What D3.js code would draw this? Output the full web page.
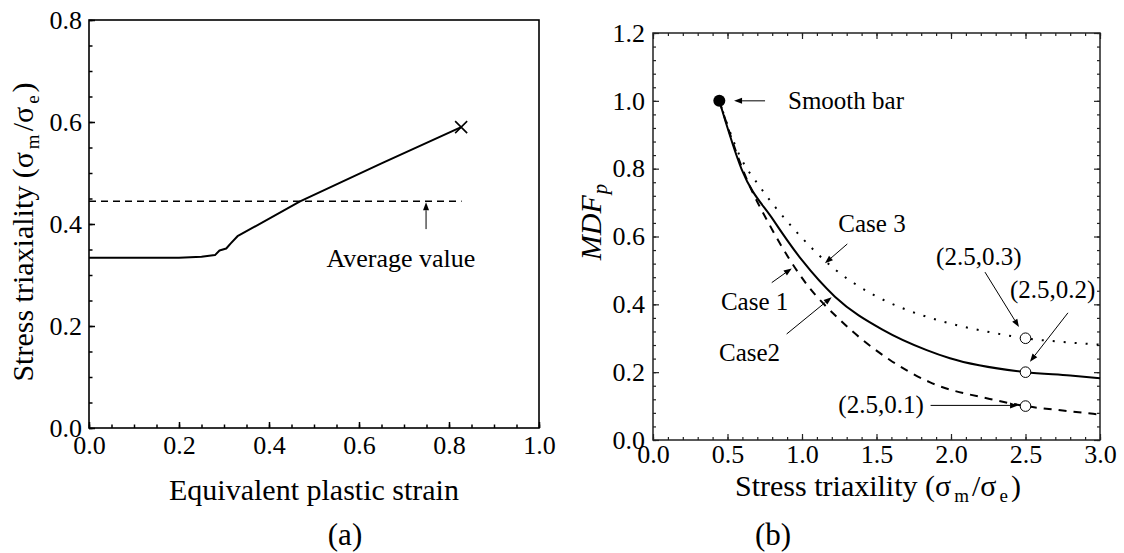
<!DOCTYPE html>
<html>
<head>
<meta charset="utf-8">
<script src="https://cdn.jsdelivr.net/npm/d3@7/dist/d3.min.js"></script>
<style>
  html, body { margin: 0; padding: 0; background: #fff; }
  svg { display: block; }
  text { font-family: "Liberation Serif", "Times New Roman", serif; fill: #000; }
</style>
</head>
<body>
<svg id="chart" width="1124" height="553"></svg>
<script>
// ---------- Data: panel (a) ----------
const strainA = [0, 0.1, 0.2, 0.25, 0.28, 0.29, 0.305, 0.315, 0.33, 0.469, 0.65, 0.827];
const triaxA  = [0.334, 0.334, 0.334, 0.336, 0.339, 0.348, 0.352, 0.362, 0.376, 0.4445, 0.519, 0.59];
const averageValue = 0.4445;
const averageRange = [0, 0.828];
const xTicksA = [0, 0.2, 0.4, 0.6, 0.8, 1.0];
const yTicksA = [0, 0.2, 0.4, 0.6, 0.8];

// ---------- Data: panel (b) ----------
const etaCase2 = [0.445, 0.595, 0.807, 1.0, 1.221, 1.546, 1.837, 1.993, 2.5, 2.8, 3.0];
const mdfCase2 = [1.0, 0.798, 0.649, 0.53, 0.4225, 0.324, 0.265, 0.241, 0.2, 0.19, 0.182];
const etaCase3 = [0.445, 0.58, 0.72, 0.93, 1.23, 1.48, 1.69, 1.94, 2.26, 2.5, 2.78, 3.0];
const mdfCase3 = [1.0, 0.84, 0.745, 0.63, 0.5, 0.428, 0.386, 0.35, 0.318, 0.3, 0.288, 0.281];
const etaCase1 = [0.445, 0.6, 0.8, 1.03, 1.255, 1.59, 1.86, 2.26, 2.5, 2.75, 3.0];
const mdfCase1 = [1.0, 0.8, 0.62, 0.46, 0.354, 0.236, 0.17, 0.121, 0.1, 0.087, 0.075];
const smoothBar = [0.445, 1.0];
const markedPoints = [[2.5, 0.3], [2.5, 0.2], [2.5, 0.1]];
const xTicksB = [0, 0.5, 1.0, 1.5, 2.0, 2.5, 3.0];
const yTicksB = [0, 0.2, 0.4, 0.6, 0.8, 1.0, 1.2];

const svg = d3.select("#chart");
const fmt = d3.format(".1f");
const TICK_FS = 26;

// ---------- Scales ----------
const xA = d3.scaleLinear().domain([0, 1]).range([89, 539]);
const yA = d3.scaleLinear().domain([0, 0.8]).range([428, 20]);
const xB = d3.scaleLinear().domain([0, 3]).range([653, 1100]);
const yB = d3.scaleLinear().domain([0, 1.2]).range([440, 33]);

function range(a, b, s) { const r = []; for (let v = a; v <= b + 1e-9; v += s) r.push(+v.toFixed(4)); return r; }

function arrow(g, x1, y1, x2, y2) {
  const ang = Math.atan2(y2 - y1, x2 - x1);
  const L = 8, Wd = 3;
  const bx = x2 - L * Math.cos(ang), by = y2 - L * Math.sin(ang);
  g.append("line").attr("x1", x1).attr("y1", y1).attr("x2", bx).attr("y2", by)
    .attr("stroke", "#000").attr("stroke-width", 1);
  const px = -Math.sin(ang) * Wd, py = Math.cos(ang) * Wd;
  g.append("path").attr("d", `M${x2},${y2}L${bx + px},${by + py}L${bx - px},${by - py}Z`).attr("fill", "#000");
}

function addSubLabel(sel, parts, subSize) {
  parts.forEach(p => {
    const t = sel.append("tspan").text(p.t);
    if (p.sub) t.attr("font-size", subSize).attr("baseline-shift", "-30%").attr("dx", 3);
    else if (p.after) t.attr("dx", 3);
  });
}

function styleTickText(g) {
  g.selectAll("text").attr("font-size", TICK_FS).attr("font-family", "Liberation Serif");
}

// ================= Panel (a) =================
const gA = svg.append("g");
gA.append("g").attr("transform", `translate(0,${yA(0)})`)
  .call(d3.axisBottom(xA).tickValues(range(0, 1, 0.05)).tickSize(-3.5).tickFormat(""))
  .call(g => g.select(".domain").remove());
gA.append("g").attr("transform", `translate(${xA(0)},0)`)
  .call(d3.axisLeft(yA).tickValues(range(0, 0.8, 0.05)).tickSize(-3.5).tickFormat(""))
  .call(g => g.select(".domain").remove());
gA.append("g").attr("transform", `translate(0,${yA(0)})`)
  .call(d3.axisBottom(xA).tickValues(xTicksA).tickSize(-6).tickPadding(8).tickFormat(fmt))
  .call(g => g.select(".domain").remove())
  .call(styleTickText);
gA.append("g").attr("transform", `translate(${xA(0)},0)`)
  .call(d3.axisLeft(yA).tickValues(yTicksA).tickSize(-6).tickPadding(7).tickFormat(fmt))
  .call(g => g.select(".domain").remove())
  .call(styleTickText);
gA.selectAll(".tick line").attr("stroke", "#000").attr("stroke-width", 1.5);
gA.append("rect").attr("x", xA(0)).attr("y", yA(0.8)).attr("width", xA(1) - xA(0)).attr("height", yA(0) - yA(0.8))
  .attr("fill", "none").attr("stroke", "#000").attr("stroke-width", 1.6);

gA.append("line").attr("x1", xA(averageRange[0])).attr("x2", xA(averageRange[1]))
  .attr("y1", yA(averageValue)).attr("y2", yA(averageValue))
  .attr("stroke", "#000").attr("stroke-width", 1.4).attr("stroke-dasharray", "7,5");
const lineA = d3.line().x((d, i) => xA(strainA[i])).y((d, i) => yA(triaxA[i])).curve(d3.curveLinear);
gA.append("path").datum(strainA).attr("d", lineA).attr("fill", "none").attr("stroke", "#000")
  .attr("stroke-width", 2).attr("stroke-linejoin", "round");
const fx = xA(strainA[strainA.length - 1]), fy = yA(triaxA[triaxA.length - 1]);
gA.append("path").attr("d", `M${fx - 6},${fy - 6}L${fx + 6},${fy + 6}M${fx - 6},${fy + 6}L${fx + 6},${fy - 6}`)
  .attr("stroke", "#000").attr("stroke-width", 1.6);
arrow(gA, xA(0.749), yA(0.39), xA(0.749), yA(averageValue) + 1);
gA.append("text").attr("x", xA(0.693)).attr("y", yA(0.333)).attr("dy", "0.33em")
  .attr("text-anchor", "middle").attr("font-size", 26).text("Average value");

gA.append("text").attr("x", 314).attr("y", 500).attr("text-anchor", "middle")
  .attr("font-size", 30).text("Equivalent plastic strain");
const ytA = gA.append("text").attr("transform", `translate(33,232) rotate(-90)`).attr("text-anchor", "middle")
  .attr("font-size", 30);
addSubLabel(ytA, [{t: "Stress triaxiality (σ"}, {t: "m", sub: true}, {t: "/σ", after: true}, {t: "e", sub: true}, {t: ")", after: true}], 19);
gA.append("text").attr("x", 345).attr("y", 545).attr("text-anchor", "middle").attr("font-size", 31).text("(a)");

// ================= Panel (b) =================
const gB = svg.append("g");
const tickColor = "#222";
gB.append("g").attr("transform", `translate(0,${yB(0)})`)
  .call(d3.axisBottom(xB).tickValues(range(0, 3, 0.1)).tickSize(-3).tickFormat(""))
  .call(g => g.select(".domain").remove());
gB.append("g").attr("transform", `translate(0,${yB(1.2)})`)
  .call(d3.axisTop(xB).tickValues(range(0, 3, 0.1)).tickSize(-3).tickFormat(""))
  .call(g => g.select(".domain").remove());
gB.append("g").attr("transform", `translate(${xB(0)},0)`)
  .call(d3.axisLeft(yB).tickValues(range(0, 1.2, 0.04)).tickSize(-3).tickFormat(""))
  .call(g => g.select(".domain").remove());
gB.append("g").attr("transform", `translate(${xB(3)},0)`)
  .call(d3.axisRight(yB).tickValues(range(0, 1.2, 0.04)).tickSize(-3).tickFormat(""))
  .call(g => g.select(".domain").remove());
gB.append("g").attr("transform", `translate(0,${yB(0)})`)
  .call(d3.axisBottom(xB).tickValues(xTicksB).tickSize(-6).tickPadding(5).tickFormat(fmt))
  .call(g => g.select(".domain").remove())
  .call(styleTickText);
gB.append("g").attr("transform", `translate(0,${yB(1.2)})`)
  .call(d3.axisTop(xB).tickValues(xTicksB).tickSize(-6).tickFormat(""))
  .call(g => g.select(".domain").remove());
gB.append("g").attr("transform", `translate(${xB(0)},0)`)
  .call(d3.axisLeft(yB).tickValues(yTicksB).tickSize(-6).tickPadding(8).tickFormat(fmt))
  .call(g => g.select(".domain").remove())
  .call(styleTickText);
gB.append("g").attr("transform", `translate(${xB(3)},0)`)
  .call(d3.axisRight(yB).tickValues(yTicksB).tickSize(-6).tickFormat(""))
  .call(g => g.select(".domain").remove());
gB.selectAll(".tick line").attr("stroke", tickColor).attr("stroke-width", 1.2);
gB.append("rect").attr("x", xB(0)).attr("y", yB(1.2)).attr("width", xB(3) - xB(0)).attr("height", yB(0) - yB(1.2))
  .attr("fill", "none").attr("stroke", tickColor).attr("stroke-width", 1.5);

function lineB(etas, mdfs) {
  return d3.line().x((d, i) => xB(etas[i])).y((d, i) => yB(mdfs[i])).curve(d3.curveMonotoneX)(etas);
}
gB.append("path").attr("d", lineB(etaCase3, mdfCase3)).attr("fill", "none").attr("stroke", "#000")
  .attr("stroke-width", 2).attr("stroke-dasharray", "2,9");
gB.append("path").attr("d", lineB(etaCase1, mdfCase1)).attr("fill", "none").attr("stroke", "#000")
  .attr("stroke-width", 2).attr("stroke-dasharray", "8,7");
gB.append("path").attr("d", lineB(etaCase2, mdfCase2)).attr("fill", "none").attr("stroke", "#000")
  .attr("stroke-width", 2);

gB.append("circle").attr("cx", xB(smoothBar[0])).attr("cy", yB(smoothBar[1])).attr("r", 6).attr("fill", "#000");
gB.selectAll("circle.open").data(markedPoints).enter().append("circle").attr("class", "open")
  .attr("cx", d => xB(d[0])).attr("cy", d => yB(d[1])).attr("r", 5.3)
  .attr("fill", "#fff").attr("stroke", "#000").attr("stroke-width", 1);

arrow(gB, xB(0.752), yB(1.0), xB(0.544), yB(1.0));
gB.append("text").attr("x", xB(0.906)).attr("y", yB(1.0)).attr("dy", "0.33em").attr("font-size", 25).text("Smooth bar");
gB.append("text").attr("x", xB(1.47)).attr("y", yB(0.637)).attr("dy", "0.33em").attr("text-anchor", "middle").attr("font-size", 25).text("Case 3");
arrow(gB, xB(1.304), yB(0.578), xB(1.154), yB(0.521));
gB.append("text").attr("x", xB(0.456)).attr("y", yB(0.407)).attr("dy", "0.33em").attr("font-size", 25).text("Case 1");
arrow(gB, xB(0.797), yB(0.464), xB(0.931), yB(0.506));
gB.append("text").attr("x", xB(0.443)).attr("y", yB(0.256)).attr("dy", "0.33em").attr("font-size", 25).text("Case2");
arrow(gB, xB(0.897), yB(0.3125), xB(1.199), yB(0.421));
gB.append("text").attr("x", xB(1.9)).attr("y", yB(0.54)).attr("dy", "0.33em").attr("font-size", 25).text("(2.5,0.3)");
arrow(gB, xB(2.228), yB(0.495), xB(2.456), yB(0.333));
gB.append("text").attr("x", xB(2.396)).attr("y", yB(0.442)).attr("dy", "0.33em").attr("font-size", 25).text("(2.5,0.2)");
arrow(gB, xB(2.785), yB(0.375), xB(2.53), yB(0.231));
gB.append("text").attr("x", xB(1.244)).attr("y", yB(0.103)).attr("dy", "0.33em").attr("font-size", 25).text("(2.5,0.1)");
arrow(gB, xB(1.863), yB(0.102), xB(2.45), yB(0.102));

const xtB = gB.append("text").attr("x", 878).attr("y", 496).attr("text-anchor", "middle").attr("font-size", 30);
addSubLabel(xtB, [{t: "Stress triaxility (σ"}, {t: "m", sub: true}, {t: "/σ", after: true}, {t: "e", sub: true}, {t: ")", after: true}], 19);
const ytB = gB.append("text").attr("transform", `translate(601,222) rotate(-90)`).attr("text-anchor", "middle")
  .attr("font-size", 30).attr("font-style", "italic");
ytB.append("tspan").text("MDF");
ytB.append("tspan").attr("font-size", 21).attr("baseline-shift", "-30%").attr("dx", 1).text("p");
gB.append("text").attr("x", 773).attr("y", 545).attr("text-anchor", "middle").attr("font-size", 31).text("(b)");
</script>
</body>
</html>
